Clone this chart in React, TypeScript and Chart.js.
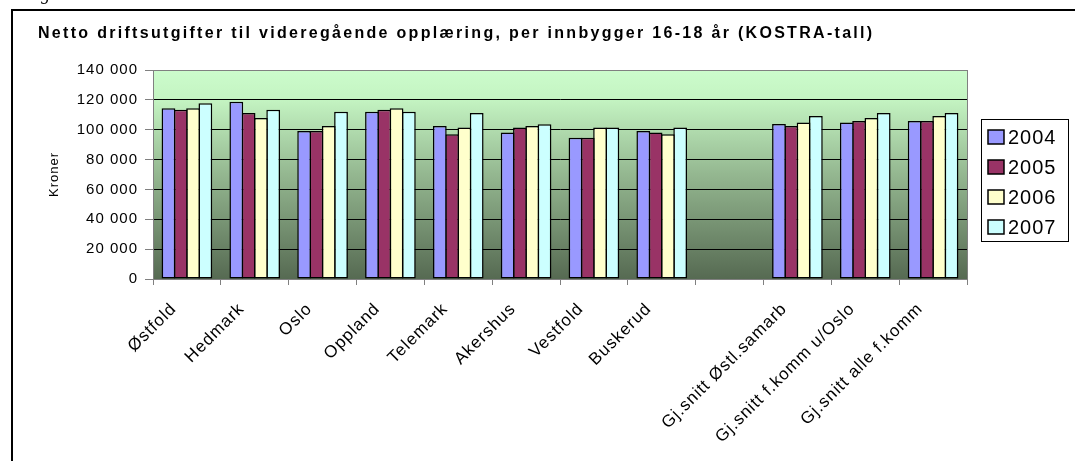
import React, { useEffect, useRef } from "react";
import { Chart, registerables } from "chart.js";

Chart.register(...registerables);

const categories = [
  "Østfold",
  "Hedmark",
  "Oslo",
  "Oppland",
  "Telemark",
  "Akershus",
  "Vestfold",
  "Buskerud",
  "",
  "Gj.snitt Østl.samarb",
  "Gj.snitt f.komm u/Oslo",
  "Gj.snitt alle f.komm",
];

const years = ["2004", "2005", "2006", "2007"];

const v2004 = [114400, 118800, 99200, 112100, 102500, 98100, 94700, 99200, null, 103900, 104800, 105800];
const v2005 = [113400, 111200, 99200, 113400, 97000, 101400, 94700, 98100, null, 102500, 105800, 105800];
const v2006 = [114400, 107900, 102500, 114400, 101400, 102500, 101400, 97000, null, 104800, 107900, 109200];
const v2007 = [117700, 113400, 112100, 112100, 111200, 103700, 101400, 101400, null, 109200, 111200, 111200];

const seriesValues = [v2004, v2005, v2006, v2007];
const seriesColors = ["#9999FF", "#993366", "#FFFFCC", "#CCFFFF"];

const yMin = 0;
const yMax = 140000;
const yStep = 20000;

const titleText = "Netto driftsutgifter til videregående opplæring, per innbygger 16-18 år (KOSTRA-tall)";
const yTitle = "Kroner";

const FONT = "'Liberation Sans', Arial, Helvetica, sans-serif";

function fmt(v: number): string {
  return String(v).replace(/\B(?=(\d{3})+(?!\d))/g, " ");
}

const bgPlugin = {
  id: "bgPlugin",
  beforeDraw(chart: any) {
    const { ctx, chartArea } = chart;
    const { left, top, right, bottom } = chartArea;
    const g = ctx.createLinearGradient(0, top, 0, bottom);
    g.addColorStop(0, "#CCFCCC");
    g.addColorStop(0.14, "#C4F4C2");
    g.addColorStop(0.5, "#94B790");
    g.addColorStop(1, "#566A52");
    ctx.save();
    ctx.fillStyle = g;
    ctx.fillRect(left, top, right - left, bottom - top);
    ctx.restore();
    ctx.letterSpacing = "1px";
  },
  beforeDatasetsDraw(chart: any) {
    const { ctx, chartArea } = chart;
    const { left, top, right, bottom } = chartArea;
    ctx.save();
    ctx.strokeStyle = "#808080";
    ctx.lineWidth = 1;
    ctx.strokeRect(Math.round(left) + 0.5, Math.round(top) + 0.5, Math.round(right - left), Math.round(bottom - top));
    ctx.restore();
  },
  afterDraw(chart: any) {
    const { ctx, chartArea } = chart;
    ctx.save();
    // title
    ctx.letterSpacing = "2.3px";
    ctx.fillStyle = "#000";
    ctx.font = `bold 16px ${FONT}`;
    ctx.textBaseline = "alphabetic";
    ctx.textAlign = "left";
    ctx.fillText(titleText, 25, 26.5);
    ctx.letterSpacing = "1px";
    // legend
    const x = Math.round(chartArea.right) + 14;
    const y = 108;
    const w = 87;
    const h = 122;
    ctx.fillStyle = "#ffffff";
    ctx.fillRect(x, y, w, h);
    ctx.strokeStyle = "#000000";
    ctx.lineWidth = 1;
    ctx.strokeRect(x + 0.5, y + 0.5, w, h);
    chart.data.datasets.forEach((ds: any, i: number) => {
      const cy = y + 18 + i * 30;
      ctx.fillStyle = ds.backgroundColor;
      ctx.fillRect(x + 7, cy - 7, 16, 14);
      ctx.strokeStyle = "#000";
      ctx.lineWidth = 1.5;
      ctx.strokeRect(x + 7, cy - 7, 16, 14);
      ctx.fillStyle = "#000";
      ctx.font = `20px ${FONT}`;
      ctx.textBaseline = "middle";
      ctx.textAlign = "left";
      ctx.fillText(ds.label, x + 27, cy + 1);
    });
    ctx.restore();
    ctx.letterSpacing = "0px";
  },
};

export default function App() {
  const canvasRef = useRef<HTMLCanvasElement | null>(null);

  useEffect(() => {
    const canvas = canvasRef.current;
    if (!canvas) return;
    Chart.defaults.font.family = FONT;
    Chart.defaults.color = "#000";

    const chart = new Chart(canvas, {
      type: "bar",
      data: {
        labels: categories,
        datasets: years.map((yr, i) => ({
          label: yr,
          data: seriesValues[i],
          backgroundColor: seriesColors[i],
          borderColor: "#000000",
          borderWidth: 1.5,
          borderSkipped: false,
          categoryPercentage: 0.725,
          barPercentage: 1.12,
        })),
      },
      options: {
        animation: false,
        responsive: false,
        maintainAspectRatio: false,
        layout: { padding: { left: 25, right: 108, top: 59, bottom: 0 } },
        plugins: {
          legend: { display: false },
          tooltip: { enabled: false },
          title: { display: false },
        },
        scales: {
          x: {
            offset: true,
            grid: {
              offset: true,
              drawOnChartArea: false,
              drawTicks: true,
              tickLength: 6,
              tickColor: "#808080",
            },
            border: { display: true, color: "#808080" },
            ticks: {
              autoSkip: false,
              minRotation: 45,
              maxRotation: 45,
              font: { family: FONT, size: 17 },
              color: "#000",
              padding: 14,
              labelOffset: -13,
            },
            afterFit(scale: any) {
              scale.height = 182;
            },
          },
          y: {
            min: yMin,
            max: yMax,
            ticks: {
              stepSize: yStep,
              font: { family: FONT, size: 15 },
              color: "#000",
              padding: 7,
              callback: (v: any) => fmt(Number(v)),
            },
            grid: {
              color: (c: any) =>
                c.tick && (c.tick.value === yMin || c.tick.value === yMax) ? "#808080" : "#000000",
              lineWidth: 1,
              tickLength: 8,
              tickColor: "#808080",
            },
            border: { display: true, color: "#808080" },
            title: {
              display: true,
              text: yTitle,
              font: { family: FONT, size: 13 },
              color: "#000",
              padding: { top: 9, bottom: 0 },
            },
            afterFit(scale: any) {
              scale.width = 115;
            },
          },
        },
      },
      plugins: [bgPlugin],
    });
    return () => chart.destroy();
  }, []);

  return (
    <div>
      <div
        style={{
          position: "fixed",
          left: 25,
          top: -15,
          fontFamily: "'Liberation Serif', 'Times New Roman', serif",
          fontStyle: "italic",
          fontSize: 18,
          lineHeight: "18px",
          whiteSpace: "nowrap",
          zIndex: 2,
        }}
      >
        Figur
      </div>
      <div
        style={{
          position: "fixed",
          left: 11,
          top: 9,
          width: 1064,
          height: 452,
          boxSizing: "border-box",
          borderLeft: "2px solid #000",
          borderTop: "2px solid #000",
          background: "#fff",
          zIndex: 1,
        }}
      >
        <canvas ref={canvasRef} width={1062} height={450} style={{ display: "block" }} />
      </div>
    </div>
  );
}
